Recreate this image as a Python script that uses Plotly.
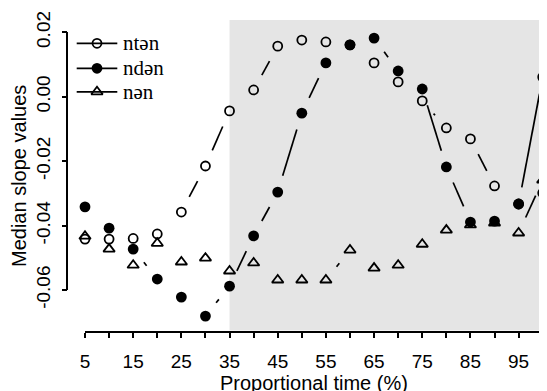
import math
import plotly.graph_objects as go

# ---------------- data ----------------
time_pct = [5, 10, 15, 20, 25, 30, 35, 40, 45, 50, 55, 60, 65, 70, 75, 80, 85, 90, 95, 100]
nten = [-0.0442, -0.0442, -0.0440, -0.0426, -0.0358, -0.0215, -0.0044, 0.0021, 0.0157, 0.0176,
        0.0170, 0.0161, 0.0105, 0.0046, -0.0013, -0.0097, -0.0131, -0.0277, -0.0333, -0.0299]
nden = [-0.0342, -0.0408, -0.0473, -0.0566, -0.0622, -0.0681, -0.0588, -0.0432, -0.0296, -0.0051,
        0.0105, 0.0161, 0.0182, 0.0080, 0.0024, -0.0218, -0.0389, -0.0386, -0.0333, 0.0061]
nan_ = [-0.0433, -0.0473, -0.0523, -0.0455, -0.0513, -0.0501, -0.0541, -0.0516, -0.0569, -0.0569,
        -0.0569, -0.0476, -0.0532, -0.0523, -0.0458, -0.0414, -0.0398, -0.0392, -0.0423, -0.0259]
series_names = ["ntən", "ndən", "nən"]

x_tick_vals = list(range(5, 101, 5))
x_tick_text = [str(v) if v % 10 == 5 else "" for v in x_tick_vals]
y_tick_vals = [-0.06, -0.04, -0.02, 0.0, 0.02]
y_tick_text = ["-0.06", "-0.04", "-0.02", "0.00", "0.02"]
shade_start, shade_end = 35, 100

# ---------------- layout (screen pixels of the reference) ----------------
W, H = 547, 391
OFF = 8.0   # page body offset of the plot div


def px_x(p):
    return (p - OFF) / W


def px_y(p):
    return 1 - (p - OFF) / H


X_MIN, X_MAX = 5, 100
Y_MIN, Y_MAX = -0.06, 0.02
AX_X_L, AX_X_R = 85.0, 542.7      # pixel of x=5 and x=100
AX_Y_T, AX_Y_B = 32.3, 290.0      # pixel of y=0.02 and y=-0.06
YAXIS_LINE = 67.3
XAXIS_LINE = 332.3
PLOT_L, PLOT_R, PLOT_T, PLOT_B = 60.0, 554.0, 12.0, 345.0
SHADE_T, SHADE_B = 20.0, 330.5
GAP = 17.0

pxx = (AX_X_R - AX_X_L) / (X_MAX - X_MIN)
pxy = (AX_Y_B - AX_Y_T) / (Y_MAX - Y_MIN)
main_xrange = [X_MIN - (AX_X_L - PLOT_L) / pxx, X_MAX + (PLOT_R - AX_X_R) / pxx]
main_yrange = [Y_MIN - (PLOT_B - AX_Y_B) / pxy, Y_MAX + (AX_Y_T - PLOT_T) / pxy]


def gapped(xs, ys, gap=GAP):
    """R type='b' style: segments between points with a gap around each point."""
    ox, oy = [], []
    for i in range(len(xs) - 1):
        x1, y1 = xs[i] * pxx, ys[i] * pxy
        x2, y2 = xs[i + 1] * pxx, ys[i + 1] * pxy
        d = math.hypot(x2 - x1, y2 - y1)
        if d <= 2 * gap:
            continue
        ux, uy = (x2 - x1) / d, (y2 - y1) / d
        ox += [(x1 + ux * gap) / pxx, (x2 - ux * gap) / pxx, None]
        oy += [(y1 + uy * gap) / pxy, (y2 - uy * gap) / pxy, None]
    return ox, oy


LINE_W = 1.7
marker_styles = [
    dict(symbol="circle-open", size=9, color="black", line=dict(width=1.8, color="black")),
    dict(symbol="circle", size=10.8, color="black", line=dict(width=0)),
    dict(symbol="triangle-up-open", size=10, color="black", line=dict(width=1.8, color="black")),
]

fig = go.Figure()
for name, vals, ms in zip(series_names, [nten, nden, nan_], marker_styles):
    gx, gy = gapped(time_pct, vals)
    fig.add_trace(go.Scatter(x=gx, y=gy, mode="lines", line=dict(color="black", width=LINE_W),
                             showlegend=False, hoverinfo="skip"))
for name, vals, ms in zip(series_names, [nten, nden, nan_], marker_styles):
    fig.add_trace(go.Scatter(x=time_pct, y=vals, mode="markers", marker=ms, name=name,
                             cliponaxis=False, showlegend=False))

# empty trace to activate the axis-drawing subplot
fig.add_trace(go.Scatter(x=[], y=[], xaxis="x2", yaxis="y2", showlegend=False, hoverinfo="skip"))

# manual legend (R-style)
LEG_ROWS = [43.3, 68.3, 91.8]
LEG_X0, LEG_X1, LEG_TX = 76.7, 117.3, 120.5
for name, ms, row in zip(series_names, marker_styles, LEG_ROWS):
    fig.add_shape(type="line", xref="paper", yref="paper",
                  x0=px_x(LEG_X0), x1=px_x(LEG_X1), y0=px_y(row), y1=px_y(row),
                  line=dict(color="black", width=LINE_W), layer="above")
    fig.add_trace(go.Scatter(x=[(LEG_X0 + LEG_X1) / 2 - OFF], y=[row - OFF], xaxis="x3", yaxis="y3",
                             mode="markers", marker=ms, showlegend=False, hoverinfo="skip",
                             cliponaxis=False))
    fig.add_annotation(text=name, xref="paper", yref="paper", x=px_x(LEG_TX), y=px_y(row),
                       xanchor="left", yanchor="middle", showarrow=False,
                       font=dict(family="Liberation Serif", size=21, color="black"))

# shaded region
fig.add_shape(type="rect", xref="x", yref="paper", x0=shade_start, x1=shade_end,
              y0=px_y(SHADE_B), y1=px_y(SHADE_T),
              fillcolor="#e5e5e5", line=dict(width=0), layer="below")

TICK_FONT = dict(family="Liberation Sans", size=19, color="black")
TITLE_FONT = dict(family="Liberation Sans", size=20, color="black")

fig.update_layout(
    width=W, height=H, margin=dict(l=0, r=0, t=0, b=0, pad=0, autoexpand=False),
    paper_bgcolor="white", plot_bgcolor="rgba(0,0,0,0)", showlegend=False,
    xaxis=dict(domain=[px_x(PLOT_L), min(1, px_x(PLOT_R))], range=main_xrange, visible=False,
               fixedrange=True),
    yaxis=dict(domain=[px_y(PLOT_B), px_y(PLOT_T)], range=main_yrange, visible=False, fixedrange=True),
    xaxis2=dict(domain=[px_x(AX_X_L), px_x(AX_X_R)], range=[X_MIN, X_MAX], anchor="free",
                position=px_y(XAXIS_LINE), showline=True, linecolor="black", linewidth=1.5,
                ticks="outside", ticklen=5, tickwidth=1.5, tickcolor="black",
                tickmode="array", tickvals=x_tick_vals, ticktext=x_tick_text,
                tickfont=TICK_FONT, showgrid=False, zeroline=False, ticklabelstandoff=7),
    yaxis2=dict(domain=[px_y(AX_Y_B), px_y(AX_Y_T)], range=[Y_MIN, Y_MAX], anchor="free",
                position=px_x(YAXIS_LINE), showline=True, linecolor="black", linewidth=1.5,
                ticks="outside", ticklen=5, tickwidth=1.5, tickcolor="black",
                tickmode="array", tickvals=y_tick_vals, ticktext=y_tick_text, tickangle=-90,
                tickfont=TICK_FONT, showgrid=False, zeroline=False, ticklabelstandoff=4),
    xaxis3=dict(domain=[0, 1], range=[0, W], visible=False, anchor="y3", fixedrange=True),
    yaxis3=dict(domain=[0, 1], range=[H, 0], visible=False, anchor="x3", fixedrange=True),
)

fig.add_annotation(text="Median slope values", xref="paper", yref="paper",
                   x=px_x(19), y=px_y(176), textangle=-90, showarrow=False,
                   xanchor="center", yanchor="middle", font=TITLE_FONT)
fig.add_annotation(text="Proportional time (%)", xref="paper", yref="paper",
                   x=px_x((AX_X_L + AX_X_R) / 2), y=px_y(370), showarrow=False,
                   xanchor="center", yanchor="top", font=TITLE_FONT)

fig.write_html("out.html")
